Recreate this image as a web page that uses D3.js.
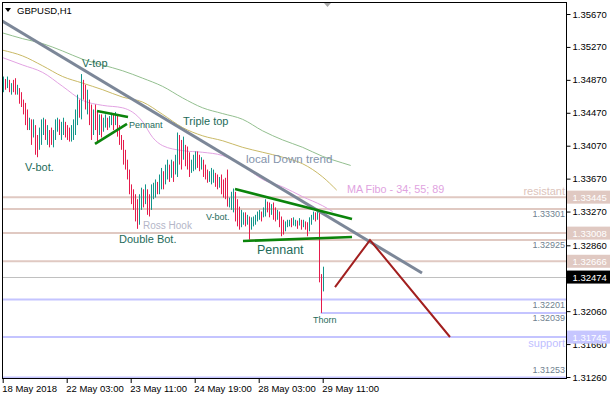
<!DOCTYPE html>
<html><head><meta charset="utf-8">
<script src="https://cdn.jsdelivr.net/npm/d3@7"></script>
<style>
body{margin:0;background:#fff}
svg{display:block}
text{font-family:"Liberation Sans",Arial,sans-serif}
</style>
</head><body>
<svg id="c" width="610" height="400"></svg>
<script>
// ---------- DATA ----------
const symbolTitle = "GBPUSD,H1";
const barHigh = [
1.3491,1.3488,1.3491,1.3487,1.3483,1.3487,1.3489,1.3481,1.3477,1.3472,
1.3463,1.3459,1.3451,1.3441,1.3439,1.3439,1.3432,1.3420,1.3429,1.3439,
1.3441,1.3439,1.3432,1.3426,1.3429,1.3426,1.3439,1.3441,1.3439,1.3436,
1.3441,1.3436,1.3432,1.3429,1.3432,1.3439,1.3451,1.3469,1.3463,1.3494,
1.3487,1.3481,1.3475,1.3463,1.3457,1.3451,1.3457,1.3448,1.3445,1.3445,
1.3441,1.3445,1.3441,1.3443,1.3447,1.3445,1.3448,1.3445,1.3432,1.3420,
1.3414,1.3402,1.3390,1.3378,1.3360,1.3354,1.3348,1.3342,1.3348,1.3356,
1.3354,1.3360,1.3354,1.3348,1.3360,1.3362,1.3366,1.3363,1.3372,1.3380,
1.3376,1.3384,1.3390,1.3384,1.3390,1.3388,1.3396,1.3423,1.3420,1.3414,
1.3418,1.3408,1.3406,1.3399,1.3390,1.3396,1.3400,1.3400,1.3396,1.3393,
1.3390,1.3384,1.3378,1.3376,1.3380,1.3378,1.3374,1.3372,1.3369,1.3372,
1.3366,1.3368,1.3378,1.3344,1.3351,1.3355,1.3351,1.3342,1.3333,1.3329,
1.3326,1.3326,1.3323,1.3321,1.3320,1.3321,1.3323,1.3327,1.3329,1.3327,
1.3332,1.3342,1.3339,1.3338,1.3336,1.3338,1.3332,1.3329,1.3327,1.3321,
1.3317,1.3315,1.3317,1.3317,1.3319,1.3320,1.3317,1.3316,1.3319,1.3317,
1.3317,1.3315,1.3314,1.3320,1.3323,1.3327,1.3326,1.3328,1.3326,1.3251,1.3260];
const barLow = [
1.3472,1.3475,1.3477,1.3472,1.3469,1.3472,1.3469,1.3469,1.3458,1.3454,
1.3445,1.3432,1.3426,1.3426,1.3408,1.3417,1.3396,1.3393,1.3402,1.3408,
1.3420,1.3414,1.3408,1.3405,1.3408,1.3405,1.3414,1.3424,1.3420,1.3414,
1.3420,1.3417,1.3414,1.3412,1.3412,1.3414,1.3420,1.3432,1.3441,1.3439,
1.3463,1.3451,1.3445,1.3432,1.3414,1.3420,1.3426,1.3412,1.3420,1.3417,
1.3424,1.3429,1.3426,1.3429,1.3432,1.3426,1.3432,1.3418,1.3408,1.3402,
1.3384,1.3378,1.3366,1.3348,1.3336,1.3329,1.3315,1.3306,1.3311,1.3329,
1.3332,1.3336,1.3323,1.3321,1.3329,1.3342,1.3344,1.3348,1.3348,1.3354,
1.3354,1.3360,1.3366,1.3363,1.3368,1.3363,1.3372,1.3369,1.3384,1.3378,
1.3390,1.3382,1.3378,1.3369,1.3374,1.3376,1.3378,1.3380,1.3376,1.3378,
1.3369,1.3366,1.3362,1.3363,1.3360,1.3362,1.3357,1.3354,1.3356,1.3348,
1.3344,1.3342,1.3333,1.3332,1.3329,1.3326,1.3315,1.3309,1.3305,1.3308,
1.3311,1.3309,1.3311,1.3293,1.3305,1.3309,1.3311,1.3315,1.3317,1.3315,
1.3320,1.3321,1.3326,1.3320,1.3323,1.3317,1.3315,1.3317,1.3308,1.3297,
1.3299,1.3303,1.3308,1.3309,1.3308,1.3310,1.3309,1.3306,1.3310,1.3305,
1.3308,1.3305,1.3297,1.3303,1.3311,1.3317,1.3315,1.3317,1.3241,1.32039,1.3230];
// U = bullish bar, D = bearish bar
const barDir =
 "UDUDUDDUDD"+"DDDUDUDDUU"+"UDUDDUUUDU"+"UDDDUUUUDU"+"DDUDDUDDUD"+
 "UUDUUDUDDD"+"DDDDDDDDUU"+"DUDDUUUDUU"+"DUUDUDUUDD"+"UDDDUUUDDU"+
 "DDDUUUDDUD"+"DDDUUUDDDU"+"UDUDUUUUUD"+"UUDDUDDUDD"+"DUUUDUUDUD"+"UDDUUUDUDDU";
const lastClose = 1.32474;

const timeTickIdx = [0,32,64,96,128,160];
const timeTickLabels = ["18 May 2018","22 May 03:00","23 May 11:00","24 May 19:00","28 May 03:00","29 May 11:00"];
const priceTicks = [1.35670,1.35270,1.34870,1.34470,1.34070,1.33670,1.33270,1.32860,1.32060,1.31660,1.31260];

// moving averages [bar index, price]
const ma89 = [[0,1.3544],[10,1.3537],[20,1.3531],[30,1.3522],[40,1.3512],[50,1.3505],[60,1.3498],[70,1.3489],[80,1.3479],[90,1.3465],[100,1.3453],[110,1.3446],[120,1.3439],[130,1.3425],[140,1.3414],[150,1.3405],[160,1.3394],[170,1.3386],[174,1.3383]];
const ma55 = [[0,1.3523],[10,1.3516],[20,1.3504],[30,1.3491],[40,1.3483],[50,1.3475],[60,1.3466],[70,1.3460],[80,1.3445],[90,1.3429],[100,1.3419],[110,1.3413],[120,1.3405],[130,1.3399],[140,1.3393],[150,1.3385],[160,1.3369],[167,1.3353]];
const ma34 = [[0,1.3514],[10,1.3505],[20,1.3496],[30,1.3479],[40,1.3462],[50,1.3456],[60,1.3453],[70,1.3436],[75,1.3417],[80,1.3407],[90,1.3401],[100,1.3399],[110,1.3395],[120,1.3383],[130,1.3366],[140,1.3357],[150,1.3345],[160,1.3334],[165,1.3327]];

// drawn objects [bar index, price]
const downTrend = [[-0.35,1.35585],[209.65,1.32523]];
const pennantSmallUpper = [[47.15,1.34492],[62.65,1.34419]];
const pennantSmallLower = [[46.15,1.34091],[62.15,1.34334]];
const pennantBigUpper = [[116.15,1.33544],[174.65,1.33179]];
const pennantBigLower = [[120.15,1.32912],[174.65,1.32961]];
const forecastPath = [[166.15,1.32353],[183.65,1.32924],[223.65,1.31746]];

// horizontal levels: price, first bar index (null = whole width), label kind
const resistLevels = [1.33445,1.33301,1.33008,1.32925,1.32666];
const resistStart  = [null,null,null,123,null];
const resistBoxed  = [true,false,true,false,true];
const supportLevels = [1.32201,1.32039,1.31745,1.31253];
const supportStart  = [null,159,null,null];
const supportBoxed  = [false,false,true,false];

// annotation texts [text, bar index, price]
const annoMain = [["V-top",39.6,1.35026],["V-bot.",11.15,1.33763],["Triple top",90.15,1.34321],["Double Bot.",58.15,1.32888]];
const annoSmall = [["Pennant",63.15,1.34285],["V-bot.",101.65,1.33167],["Thorn",155.15,1.31916]];
const annoBig = [["Pennant",127.15,1.32754]];

// ---------- CHART ----------
const W=610,H=400, L=2.5, R=566.5, T=2.5, B=379;
const svg=d3.select("#c");
const x=d3.scaleLinear().domain([0,160]).range([2.7,322.7]);
const y=d3.scaleLinear().domain([1.35670,1.31260]).range([14,377]);
const C={up:"#12958a",dn:"#e51b4b",res:"#e0c9c2",sup:"#c4c4ff",note:"#1e6b5a"};

svg.append("defs").append("clipPath").attr("id","pc").append("rect")
  .attr("x",L+0.5).attr("y",T+0.5).attr("width",R-L-1).attr("height",B-T-1);
const plot=svg.append("g").attr("clip-path","url(#pc)");
const line=d3.line().x(d=>x(d[0])).y(d=>y(d[1]));

// horizontal levels
function levels(vals,starts,col){
  plot.selectAll(null).data(vals).join("line")
   .attr("x1",(d,k)=>starts[k]==null?L:x(starts[k])).attr("x2",R)
   .attr("y1",d=>y(d)).attr("y2",d=>y(d))
   .attr("stroke",col).attr("stroke-width",2);
}
levels(resistLevels,resistStart,C.res);
levels(supportLevels,supportStart,C.sup);
plot.append("line").attr("x1",L).attr("x2",R)
  .attr("y1",Math.round(y(lastClose))+0.5).attr("y2",Math.round(y(lastClose))+0.5)
  .attr("stroke","#c0c0c0").attr("stroke-width",1);

// moving averages
[[ma89,"#93bf8f"],[ma55,"#c9b966"],[ma34,"#e2a2e2"]].forEach(([d,c])=>{
  plot.append("path").datum(d).attr("d",line.curve(d3.curveMonotoneX))
    .attr("fill","none").attr("stroke",c).attr("stroke-width",1);
});
line.curve(d3.curveLinear);

// bars
const bars=barHigh.map((h,k)=>({i:k,h,l:barLow[k],up:barDir[k]==="U"}));
plot.selectAll("line.bar").data(bars).join("line").attr("class","bar")
  .attr("x1",d=>Math.round(x(d.i))+0.5).attr("x2",d=>Math.round(x(d.i))+0.5)
  .attr("y1",d=>y(d.h)).attr("y2",d=>y(d.l))
  .attr("stroke",d=>d.up?C.up:C.dn).attr("stroke-width",1);

// trend line & patterns
plot.append("path").datum(downTrend).attr("d",line).attr("stroke","#7c8798").attr("stroke-width",3).attr("fill","none");
[pennantSmallUpper,pennantSmallLower,pennantBigUpper,pennantBigLower].forEach(p=>{
  plot.append("path").datum(p).attr("d",line).attr("stroke","#0b840b").attr("stroke-width",2.6).attr("fill","none");
});
plot.append("path").datum(forecastPath).attr("d",line).attr("stroke","#a21f1f").attr("stroke-width",2).attr("fill","none");

// annotations
function anno(arr,size,col){
  plot.selectAll(null).data(arr).join("text").attr("x",d=>x(d[1])).attr("y",d=>y(d[2]))
   .attr("font-size",size).attr("fill",col).text(d=>d[0]);
}
anno(annoMain,11,C.note);
anno(annoSmall,9,C.note);
anno(annoBig,12.5,C.note);
anno([["local Down trend",121.65,1.33860]],11.6,"#8393ab");
anno([["MA Fibo - 34; 55; 89",172.15,1.33495]],10.8,"#dfa3df");
anno([["Ross Hook",70.15,1.33058]],10,"#b4b6c8");
plot.append("text").attr("x",R-1.5).attr("y",y(1.33471)).attr("text-anchor","end")
  .attr("font-size",11).attr("fill","#dcc3bb").text("resistant");
plot.append("text").attr("x",R-1.5).attr("y",y(1.31624)).attr("text-anchor","end")
  .attr("font-size",11).attr("fill","#c0c0ff").text("support");

// small price labels of unboxed levels
const smallLv=[...resistLevels.filter((d,k)=>!resistBoxed[k]),...supportLevels.filter((d,k)=>!supportBoxed[k])];
plot.selectAll(null).data(smallLv).join("text")
  .attr("x",R-1.5).attr("y",d=>d<1.3126?y(d)-5:y(d)+8.5).attr("text-anchor","end")
  .attr("font-size",9).attr("fill","#6f7f90").text(d=>d.toFixed(5));

// frame
svg.append("rect").attr("x",L).attr("y",T).attr("width",R-L).attr("height",B-T-0.5)
  .attr("fill","none").attr("stroke","#000").attr("stroke-width",1);

// right price axis
const ra=svg.append("g").attr("transform",`translate(${R},0)`)
  .call(d3.axisRight(y).tickValues(priceTicks).tickSize(4).tickPadding(2).tickFormat(d3.format(".5f")));
ra.select(".domain").remove();
ra.selectAll("text").attr("font-size",9.5).attr("fill","#000").attr("font-family","Liberation Sans, Arial, sans-serif");

// boxed level labels
const boxes=[...resistLevels.filter((d,k)=>resistBoxed[k]).map(v=>[v,"#e0c9c2"]),
  ...supportLevels.filter((d,k)=>supportBoxed[k]).map(v=>[v,"#c6c6ff"]),[lastClose,"#000"]];
const bg=svg.selectAll("g.box").data(boxes).join("g").attr("class","box")
  .attr("transform",d=>`translate(${R+0.5},${y(d[0])})`);
bg.append("rect").attr("x",0).attr("y",-6.5).attr("width",W-R).attr("height",13).attr("fill",d=>d[1]);
bg.append("text").attr("x",5.5).attr("y",3.6).attr("font-size",9.5).attr("fill","#fff").text(d=>d[0].toFixed(5));

// bottom time axis
const ba=svg.append("g").attr("transform",`translate(0,${B})`)
  .call(d3.axisBottom(x).tickValues(timeTickIdx).tickSize(4).tickFormat((d,k)=>timeTickLabels[k]));
ba.select(".domain").remove();
ba.selectAll("text").attr("font-size",9.5).attr("fill","#000").attr("text-anchor","start")
  .attr("x",-1).attr("dy",0).attr("y",13).attr("font-family","Liberation Sans, Arial, sans-serif");

// title and marker
svg.append("path").attr("d","M5,8 L11,8 L8,12 Z").attr("fill","#000");
svg.append("text").attr("x",17).attr("y",14).attr("font-size",9.5).attr("fill","#000").text(symbolTitle);
svg.append("path").attr("d","M324,3 L331,3 L327.5,7 Z").attr("fill","#a8a8a8");
</script>
</body></html>
